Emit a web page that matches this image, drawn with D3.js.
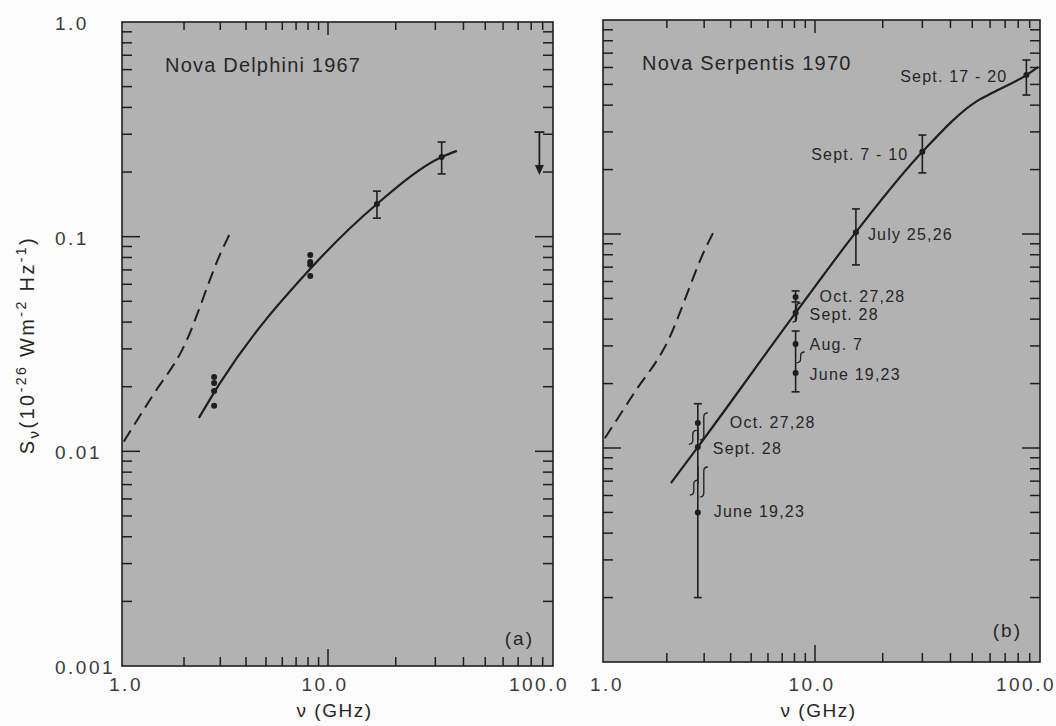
<!DOCTYPE html>
<html>
<head>
<meta charset="utf-8">
<style>
body { margin: 0; background: #fcfcfc; }
text { font-family: "Liberation Sans", Arial, sans-serif; fill: #262626; }
</style>
</head>
<body>
<script src="https://d3js.org/d3.v7.min.js"></script>
<script>
// axis ticks
var xTickValues = [1, 10, 100];
var xTickLabels = ["1.0", "10.0", "100.0"];
var yTickValues = [1, 0.1, 0.01, 0.001];
var yTickLabels = ["1.0", "0.1", "0.01", "0.001"];

// dashed curve (same in both panels)
var dashFreq = [1.02, 1.41, 1.96, 3.06, 3.35];
var dashFlux = [0.0111, 0.0182, 0.0297, 0.0867, 0.104];

// (a) Nova Delphini 1967
var delCurveFreq = [2.36, 2.99, 8.27, 16.5, 32, 37.4];
var delCurveFlux = [0.0143, 0.0208, 0.0714, 0.142, 0.235, 0.251];
var delDotFreq = [2.8, 2.8, 2.8, 2.8, 8.2, 8.2, 8.2, 8.2];
var delDotFlux = [0.0222, 0.0208, 0.0191, 0.0163, 0.0822, 0.0762, 0.0740, 0.0656];
var delErrFreq = [16.5, 32];
var delErrFlux = [0.142, 0.235];
var delErrLo = [0.122, 0.196];
var delErrHi = [0.163, 0.276];
var delLimitFreq = 87, delLimitHi = 0.307, delLimitLo = 0.194;

// (b) Nova Serpentis 1970
var serCurveFreq = [2.09, 2.8, 8.1, 15.2, 30, 52.5, 61.8, 87, 98];
var serCurveFlux = [0.00686, 0.0101, 0.0428, 0.102, 0.242, 0.418, 0.458, 0.553, 0.603];
var serFreq = [87, 30, 15.2, 8.1, 8.1, 8.1, 8.1, 2.8, 2.8, 2.8];
var serFlux = [0.553, 0.242, 0.102, 0.0508, 0.0428, 0.0306, 0.0224, 0.0131, 0.0101, 0.0050];
var serLo = [0.446, 0.193, 0.0717, 0.0481, 0.0388, 0.0258, 0.0183, 0.0109, 0.0068, 0.0020];
var serHi = [0.650, 0.290, 0.131, 0.0542, 0.0476, 0.0352, 0.0258, 0.0161, 0.0125, 0.0082];
var serLabels = ["Sept. 17 - 20", "Sept. 7 - 10", "July 25,26", "Oct. 27,28", "Sept. 28",
                 "Aug. 7", "June 19,23", "Oct. 27,28", "Sept. 28", "June 19,23"];
var serCapTop = [1, 1, 1, 1, 0, 1, 0, 1, 0, 0];
var serCapBot = [1, 1, 1, 1, 0, 0, 1, 0, 0, 1];
// overlapping error bar joints
var serBraceFreq = [2.8, 2.8, 2.8, 2.8, 8.1, 8.1];
var serBraceTop = [0.0146, 0.0121, 0.00815, 0.00708, 0.0476, 0.0281];
var serBraceBot = [0.0109, 0.0104, 0.0059, 0.00603, 0.0388, 0.0250];

// label placement (px, relative to the point)
var serLabelDx = [-19, -14, 12, 24, 14, 14, 14, 32, 15, 16];
var serLabelDy = [7, 8, 8, 5, 7, 6, 7, 5, 7, 5];
var serLabelAnchor = ["end", "end", "start", "start", "start", "start", "start", "start", "start", "start"];
var serBraceDx = [6, -5, 6, -4, 1, 5];

var ink = "#1e1e1e";

var svg = d3.select("body").append("svg")
    .attr("width", 1056)
    .attr("height", 726);

function makePanel(xRange, yRange) {
    var x = d3.scaleLog().domain([1, 10, 100]).range(xRange);
    var y = d3.scaleLog().domain([0.001, 1]).range(yRange);
    var g = svg.append("g");

    g.append("rect")
        .attr("x", x(1)).attr("y", y(1))
        .attr("width", x(100) - x(1)).attr("height", y(0.001) - y(1))
        .attr("fill", "#b2b2b2")
        .attr("stroke", ink).attr("stroke-width", 1.6);

    var i, k, v, len;
    // x ticks, bottom and top
    for (i = 0; i < 2; i++) {
        for (k = 2; k <= 10; k++) {
            v = k * Math.pow(10, i);
            if (v >= 100) continue;
            len = (v == 10) ? 17 : 9;
            g.append("line").attr("x1", x(v)).attr("x2", x(v))
                .attr("y1", y(0.001)).attr("y2", y(0.001) - len)
                .attr("stroke", ink).attr("stroke-width", 1.5);
            g.append("line").attr("x1", x(v)).attr("x2", x(v))
                .attr("y1", y(1)).attr("y2", y(1) + (v == 10 ? 13 : 8))
                .attr("stroke", ink).attr("stroke-width", 1.5);
        }
    }
    // y ticks, left and right
    for (i = -3; i < 0; i++) {
        for (k = 2; k <= 10; k++) {
            v = k * Math.pow(10, i);
            if (v >= 0.999) continue;
            len = (k == 10) ? 18 : 10;
            g.append("line").attr("x1", x(1)).attr("x2", x(1) + len)
                .attr("y1", y(v)).attr("y2", y(v))
                .attr("stroke", ink).attr("stroke-width", 1.5);
            g.append("line").attr("x1", x(100)).attr("x2", x(100) - len)
                .attr("y1", y(v)).attr("y2", y(v))
                .attr("stroke", ink).attr("stroke-width", 1.5);
        }
    }
    // x tick labels
    for (i = 0; i < xTickValues.length; i++) {
        g.append("text")
            .attr("x", x(xTickValues[i]) + (i == 2 ? -14 : (i == 0 ? 4 : -3)))
            .attr("y", 691)
            .attr("text-anchor", "middle")
            .style("font-size", "19px")
            .style("letter-spacing", "2.5px")
            .style("fill", "#3a3a3a")
            .text(xTickLabels[i]);
    }
    // x axis title
    g.append("text")
        .attr("x", (x(1) + x(100)) / 2 - 3)
        .attr("y", 717)
        .attr("text-anchor", "middle")
        .style("font-size", "19px")
        .style("letter-spacing", "1.5px")
        .text("ν (GHz)");

    // dashed curve
    var pts = dashFreq.map(function (f, j) { return [x(f), y(dashFlux[j])]; });
    g.append("path")
        .attr("d", d3.line().curve(d3.curveMonotoneX)(pts))
        .attr("fill", "none").attr("stroke", ink)
        .attr("stroke-width", 2).attr("stroke-dasharray", "13,7");

    return { g: g, x: x, y: y };
}

function drawCurve(p, freq, flux) {
    var pts = freq.map(function (f, j) { return [p.x(f), p.y(flux[j])]; });
    p.g.append("path")
        .attr("d", d3.line().curve(d3.curveMonotoneX)(pts))
        .attr("fill", "none").attr("stroke", ink).attr("stroke-width", 2.2);
}

function drawErr(p, f, s, lo, hi, capTop, capBot) {
    var cx = p.x(f);
    p.g.append("line").attr("x1", cx).attr("x2", cx)
        .attr("y1", p.y(hi)).attr("y2", p.y(lo))
        .attr("stroke", ink).attr("stroke-width", 1.6);
    if (capTop) p.g.append("line").attr("x1", cx - 4).attr("x2", cx + 4)
        .attr("y1", p.y(hi)).attr("y2", p.y(hi))
        .attr("stroke", ink).attr("stroke-width", 1.6);
    if (capBot) p.g.append("line").attr("x1", cx - 4).attr("x2", cx + 4)
        .attr("y1", p.y(lo)).attr("y2", p.y(lo))
        .attr("stroke", ink).attr("stroke-width", 1.6);
    p.g.append("circle").attr("cx", cx).attr("cy", p.y(s)).attr("r", 3).attr("fill", ink);
}

// ---- panel (a)
var pa = makePanel([122, 328, 553], [666, 22]);
drawCurve(pa, delCurveFreq, delCurveFlux);
pa.g.selectAll("circle.dot").data(delDotFreq).enter().append("circle")
    .attr("class", "dot")
    .attr("cx", function (d) { return pa.x(d); })
    .attr("cy", function (d, j) { return pa.y(delDotFlux[j]); })
    .attr("r", 3).attr("fill", ink);
for (var i = 0; i < delErrFreq.length; i++) {
    drawErr(pa, delErrFreq[i], delErrFlux[i], delErrLo[i], delErrHi[i], 1, 1);
}
// upper limit arrow
var ax = pa.x(delLimitFreq);
pa.g.append("line").attr("x1", ax).attr("x2", ax)
    .attr("y1", pa.y(delLimitHi)).attr("y2", pa.y(delLimitLo) - 8)
    .attr("stroke", ink).attr("stroke-width", 1.8);
pa.g.append("line").attr("x1", ax - 5).attr("x2", ax + 5)
    .attr("y1", pa.y(delLimitHi)).attr("y2", pa.y(delLimitHi))
    .attr("stroke", ink).attr("stroke-width", 1.8);
pa.g.append("path")
    .attr("d", "M" + (ax - 4.5) + "," + (pa.y(delLimitLo) - 10) + "L" + (ax + 4.5) + "," + (pa.y(delLimitLo) - 10) +
               "L" + ax + "," + pa.y(delLimitLo) + "Z")
    .attr("fill", ink);

pa.g.append("text").attr("x", pa.x(1) + 43).attr("y", 72)
    .style("font-size", "20px").style("letter-spacing", "1.2px")
    .text("Nova Delphini 1967");
pa.g.append("text").attr("x", 534).attr("y", 645).attr("text-anchor", "end")
    .style("font-size", "19px").style("letter-spacing", "2px")
    .text("(a)");

// y tick labels (left panel only)
for (i = 0; i < yTickValues.length; i++) {
    svg.append("text")
        .attr("x", 55)
        .attr("y", pa.y(yTickValues[i]) + 8)
        .style("font-size", "19px")
        .style("letter-spacing", "2.5px")
        .style("fill", "#3a3a3a")
        .text(yTickLabels[i]);
}

// y axis title
var yt = svg.append("text")
    .attr("transform", "translate(34,345) rotate(-90)")
    .attr("text-anchor", "middle")
    .style("font-size", "20px")
    .style("letter-spacing", "2.4px");
yt.append("tspan").text("S");
yt.append("tspan").attr("dy", 5).style("font-size", "15px").text("ν");
yt.append("tspan").attr("dy", -5).text("(10");
yt.append("tspan").attr("dy", -8).style("font-size", "14px").text("-26");
yt.append("tspan").attr("dy", 8).text(" Wm");
yt.append("tspan").attr("dy", -8).style("font-size", "14px").text("-2");
yt.append("tspan").attr("dy", 8).text(" Hz");
yt.append("tspan").attr("dy", -8).style("font-size", "14px").text("-1");
yt.append("tspan").attr("dy", 8).text(")");

// ---- panel (b)
var pb = makePanel([603, 815, 1040], [662, 20]);
drawCurve(pb, serCurveFreq, serCurveFlux);
for (i = 0; i < serFreq.length; i++) {
    drawErr(pb, serFreq[i], serFlux[i], serLo[i], serHi[i], serCapTop[i], serCapBot[i]);
    pb.g.append("text")
        .attr("x", pb.x(serFreq[i]) + serLabelDx[i])
        .attr("y", pb.y(serFlux[i]) + serLabelDy[i])
        .attr("text-anchor", serLabelAnchor[i])
        .style("font-size", "16px")
        .style("letter-spacing", "1.2px")
        .text(serLabels[i]);
}
for (i = 0; i < serBraceFreq.length; i++) {
    var bx = pb.x(serBraceFreq[i]) + serBraceDx[i];
    var y1 = pb.y(serBraceTop[i]), y2 = pb.y(serBraceBot[i]);
    pb.g.append("path")
        .attr("d", "M" + (bx + 4) + "," + y1 + "Q" + bx + "," + y1 + " " + bx + "," + (y1 + 4) +
                   "L" + bx + "," + (y2 - 4) + "Q" + bx + "," + y2 + " " + (bx - 4) + "," + y2)
        .attr("fill", "none").attr("stroke", ink).attr("stroke-width", 1.3);
}
pb.g.append("text").attr("x", pb.x(1) + 39).attr("y", 70)
    .style("font-size", "20px").style("letter-spacing", "1.2px")
    .text("Nova Serpentis 1970");
pb.g.append("text").attr("x", 1022).attr("y", 637).attr("text-anchor", "end")
    .style("font-size", "19px").style("letter-spacing", "2px")
    .text("(b)");
</script>
</body>
</html>
